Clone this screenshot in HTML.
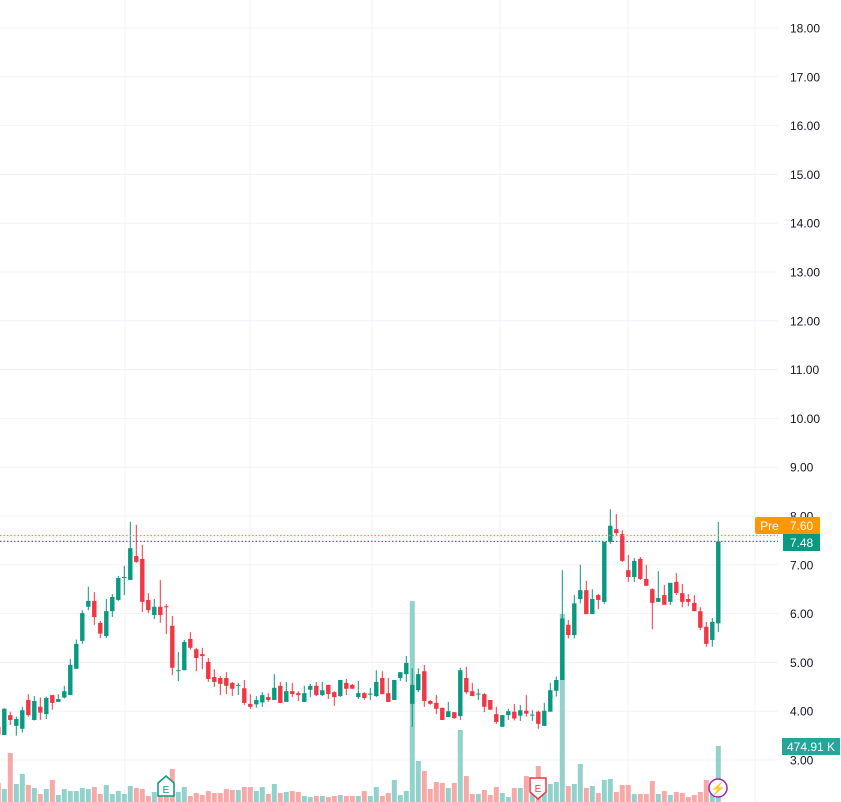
<!DOCTYPE html>
<html><head><meta charset="utf-8"><style>
html,body{margin:0;padding:0;background:#fff;}
svg{display:block;font-family:"Liberation Sans",sans-serif;}
</style></head><body>
<svg id="chart" width="841" height="802" viewBox="0 0 841 802" xmlns="http://www.w3.org/2000/svg">
<g id="grid"></g>
<g id="vol"></g>
<g id="candles"></g>
<g id="axis"></g>
<line x1="0" x2="778" y1="535.5" y2="535.5" stroke="#ff9800" stroke-width="1.3" stroke-dasharray="1.5 2"/>
<line x1="0" x2="778" y1="541.4" y2="541.4" stroke="#089981" stroke-width="1.3" stroke-dasharray="1.5 2"/>
<g>
<rect x="755" y="517" width="29" height="17" rx="2" fill="#ff9800"/>
<text x="769.5" y="530" font-size="12" fill="#fff" text-anchor="middle">Pre</text>
<rect x="783" y="517" width="37" height="17" fill="#ff9800"/>
<text x="801.5" y="530" font-size="12" fill="#fff" text-anchor="middle">7.60</text>
</g>
<g>
<rect x="783" y="534" width="37" height="17" fill="#089981"/>
<text x="801.5" y="547" font-size="12" fill="#fff" text-anchor="middle">7.48</text>
</g>
<g>
<rect x="782" y="738" width="58" height="17" fill="#26a69a"/>
<text x="811" y="751" font-size="12" fill="#fff" text-anchor="middle">474.91 K</text>
</g>
<g>
<path d="M158 783 L166 776 L174 783 L174 796 L158 796 Z" fill="#fff" stroke="#089981" stroke-width="1.5"/>
<text x="166" y="793" font-size="10" fill="#089981" text-anchor="middle">E</text>
</g>
<g>
<path d="M530 778 L546 778 L546 792 L538 799 L530 792 Z" fill="#fff" stroke="#f23645" stroke-width="1.5"/>
<text x="538" y="792" font-size="10" fill="#f23645" text-anchor="middle">E</text>
</g>
<g>
<circle cx="718" cy="788" r="9" fill="#fff" stroke="#9c27b0" stroke-width="1.5"/>
<text x="718" y="792.5" font-size="12" fill="#9c27b0" text-anchor="middle">⚡</text>
</g>
</svg>
<script>
const opens=[3.68,3.51,3.92,3.70,3.64,4.23,3.82,4.09,3.94,4.33,4.19,4.28,4.33,4.87,5.44,6.14,6.26,5.81,5.54,6.05,6.28,6.74,6.69,7.18,7.12,6.28,5.97,6.14,6.15,5.75,4.83,4.84,5.48,5.27,5.17,5.01,4.70,4.68,4.68,4.58,4.53,4.47,4.15,4.14,4.18,4.29,4.23,4.52,4.19,4.41,4.37,4.19,4.44,4.52,4.33,4.54,4.39,4.31,4.58,4.54,4.29,4.37,4.35,4.31,4.68,4.37,4.23,4.68,4.76,4.15,4.43,4.82,4.21,4.17,4.07,3.88,3.98,3.90,4.68,4.41,4.35,4.35,4.23,3.94,3.68,3.92,3.99,3.91,4.01,3.92,3.99,3.70,3.99,4.42,4.64,5.77,5.56,6.30,6.48,5.99,6.38,6.24,7.47,7.73,7.63,6.89,6.75,7.12,6.71,6.50,6.24,6.38,6.24,6.65,6.42,6.30,6.22,6.05,5.73,5.46,5.80];
const highs=[3.70,4.06,3.99,3.89,4.09,4.35,4.31,4.28,4.30,4.33,4.35,4.52,5.07,5.47,6.07,6.55,6.44,5.85,6.30,6.40,6.77,6.98,7.88,7.82,7.41,6.42,6.30,6.69,6.20,5.95,5.21,5.46,5.62,5.30,5.30,5.09,4.86,4.72,4.80,4.60,4.58,4.64,4.35,4.31,4.39,4.37,4.76,4.60,4.60,4.58,4.41,4.52,4.56,4.60,4.60,4.54,4.41,4.64,4.66,4.56,4.62,4.39,4.48,4.84,4.82,4.68,4.64,4.80,5.13,4.88,4.88,4.95,4.23,4.33,4.07,4.19,3.98,4.89,4.91,4.58,4.46,4.37,4.23,4.09,3.92,4.05,4.15,4.13,4.33,4.02,4.01,4.17,4.58,4.71,6.89,5.87,6.38,7.00,6.67,6.50,6.40,7.47,8.14,8.04,7.71,7.20,7.14,7.16,7.00,6.52,6.87,6.59,6.63,6.83,6.61,6.40,6.38,6.13,5.83,5.91,7.88];
const lows=[3.50,3.51,3.72,3.50,3.56,3.89,3.81,3.82,3.84,4.03,4.19,4.26,4.33,4.87,5.38,6.07,5.77,5.50,5.50,5.93,6.26,6.38,6.69,7.04,6.03,6.01,5.89,5.81,5.58,4.74,4.62,4.84,5.26,4.82,4.86,4.60,4.50,4.33,4.35,4.31,4.33,4.13,4.05,4.07,4.09,4.19,4.23,4.17,4.19,4.29,4.21,4.19,4.29,4.31,4.31,4.25,4.11,4.29,4.33,4.46,4.25,4.23,4.23,4.29,4.35,4.19,4.23,4.62,4.60,3.68,4.39,4.09,4.13,3.94,3.82,3.88,3.84,3.82,4.35,4.31,4.23,3.98,4.03,3.74,3.68,3.82,3.81,3.80,3.89,3.80,3.64,3.70,3.99,4.30,4.64,5.49,5.49,6.21,5.99,5.99,6.09,6.20,7.43,7.59,7.06,6.65,6.65,6.69,6.57,5.68,6.24,6.18,6.18,6.38,6.13,6.15,6.05,5.66,5.32,5.32,5.62];
const closes=[3.52,4.05,3.82,3.84,4.02,3.92,4.21,3.97,4.27,4.17,4.25,4.41,4.95,5.38,6.01,6.26,5.93,5.59,6.05,6.34,6.73,6.75,7.34,7.06,6.24,6.07,6.14,5.97,6.14,4.89,4.84,5.42,5.30,5.09,5.13,4.66,4.60,4.56,4.52,4.46,4.54,4.17,4.09,4.23,4.33,4.23,4.48,4.17,4.41,4.35,4.33,4.37,4.52,4.33,4.43,4.35,4.29,4.64,4.46,4.46,4.37,4.27,4.36,4.60,4.35,4.19,4.64,4.80,4.99,4.54,4.76,4.21,4.15,4.05,3.82,4.00,3.86,4.84,4.39,4.31,4.36,4.09,4.03,3.78,3.92,4.00,3.85,4.02,3.95,3.93,3.74,4.01,4.43,4.64,5.90,5.56,6.21,6.48,5.99,6.30,6.28,7.47,7.80,7.65,7.08,6.75,7.08,6.71,6.57,6.22,6.32,6.18,6.63,6.42,6.24,6.24,6.05,5.71,5.38,5.83,7.48];
const volumesK=[161,110,416,153,237,144,119,68,110,187,59,110,93,93,119,110,127,68,144,68,93,68,136,119,110,51,85,68,68,280,85,127,51,76,59,93,76,76,110,102,102,127,127,93,127,68,153,76,85,93,85,51,42,51,51,42,51,59,51,51,51,93,51,127,51,76,187,59,93,1705,348,263,110,170,161,119,161,611,220,68,68,102,59,127,76,42,119,119,220,85,305,102,153,170,1594,136,153,322,119,136,76,187,195,85,144,144,68,68,68,178,68,93,59,85,76,42,59,85,187,68,475];
const priceTicks=[3,4,5,6,7,8,9,10,11,12,13,14,15,16,17,18];
const tickLabels=["3.00","4.00","5.00","6.00","7.00","8.00","9.00","10.00","11.00","12.00","13.00","14.00","15.00","16.00","17.00","18.00"];

const NS="http://www.w3.org/2000/svg";
const yP=p=>760-(p-3)*48.8;
const yV=v=>802-v/8.48;
const xI=i=>-1.7+6*i;
const UP="#089981",DN="#f23645",UPV="#92d2cc",DNV="#f7a9a7";
function mk(tag,attrs,parent){const e=document.createElementNS(NS,tag);for(const k in attrs)e.setAttribute(k,attrs[k]);parent.appendChild(e);return e;}
const grid=document.getElementById('grid'),axis=document.getElementById('axis');
[125,250,372,500,628,755].forEach(x=>{const l=mk('line',{x1:x,x2:x,y1:0,y2:802,stroke:'#f0f3fa','stroke-width':1},grid);

});
priceTicks.forEach((p,i)=>{const y=yP(p);
const l=mk('line',{x1:0,x2:778,y1:y,y2:y,stroke:'#f0f3fa','stroke-width':1},grid);


const t=mk('text',{x:790,y:y+4.5,'font-size':12,fill:'#131722'},axis);
t.textContent=tickLabels[i];

});
const vg=document.getElementById('vol'),cg=document.getElementById('candles');
for(let i=0;i<opens.length;i++){
 const up=closes[i]>=opens[i];const x=xI(i);
 const vb=mk('rect',{x:x-2.5,y:yV(volumesK[i]),width:5,height:802-yV(volumesK[i]),fill:up?UPV:DNV},vg);
 
 
 const g=mk('g',{},cg);
 
 
 const col=up?UP:DN;
 mk('line',{x1:x,x2:x,y1:yP(highs[i]),y2:yP(lows[i]),stroke:col,'stroke-width':1},g);
 const t=Math.min(yP(opens[i]),yP(closes[i]));const h=Math.max(1,Math.abs(yP(opens[i])-yP(closes[i])));
 mk('rect',{x:x-2.2,y:t,width:4.4,height:h,fill:col},g);
}
</script>
</body></html>
